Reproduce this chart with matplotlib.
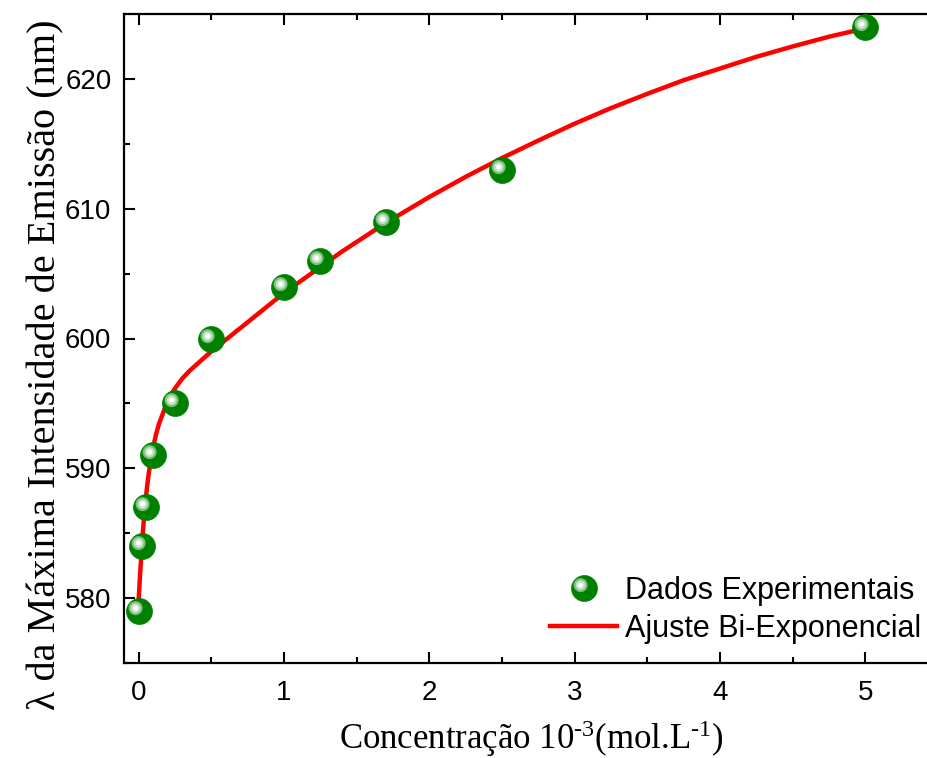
import numpy as np
import matplotlib
matplotlib.use('Agg')
import matplotlib.pyplot as plt
from matplotlib.path import Path
from matplotlib.lines import Line2D
from matplotlib.legend_handler import HandlerTuple
from matplotlib.ticker import MultipleLocator

# ---- data ----
conc = [0.0, 0.025, 0.05, 0.1, 0.25, 0.5, 1.0, 1.25, 1.7, 2.5, 5.0]
wavelength = [579, 584, 587, 591, 595, 600, 604, 606, 609, 613, 624]

fit_x = [0.00, 0.01, 0.02, 0.03, 0.04, 0.05, 0.06, 0.07, 0.08, 0.09, 0.10,
         0.12, 0.14, 0.16, 0.18, 0.20, 0.23, 0.26, 0.30, 0.35, 0.40, 0.45,
         0.50, 0.60, 0.70, 0.80, 0.90, 1.00, 1.10, 1.25, 1.40, 1.55, 1.70,
         1.85, 2.00, 2.25, 2.50, 2.75, 3.00, 3.25, 3.50, 3.75, 4.00, 4.25,
         4.50, 4.75, 5.00]
fit_y = [579.7, 581.7, 583.5, 585.1, 586.5, 587.7, 588.7, 589.6, 590.3, 591.0,
         591.6, 592.6, 593.4, 594.0, 594.6, 595.2, 595.8, 596.3, 596.9, 597.5,
         598.0, 598.5, 599.0, 599.9, 600.8, 601.7, 602.6, 603.5, 604.3, 605.5,
         606.7, 607.8, 608.9, 609.9, 610.9, 612.45, 613.9, 615.25, 616.55,
         617.75, 618.85, 619.9, 620.8, 621.7, 622.5, 623.25, 623.9]

xticks = [0, 1, 2, 3, 4, 5]
yticks = [580, 590, 600, 610, 620]

label_data = 'Dados Experimentais'
label_fit = 'Ajuste Bi-Exponencial'
xlabel = r'Concentração 10$^{\text{-3}}$(mol.L$^{\text{-1}}$)'
ylabel = 'λ da Máxima Intensidade de Emissão (nm)'

# ---- style ----
plt.rcParams['font.family'] = ['Liberation Sans', 'DejaVu Sans']
plt.rcParams['mathtext.fontset'] = 'custom'
plt.rcParams['mathtext.rm'] = 'Liberation Serif'
plt.rcParams['mathtext.it'] = 'Liberation Serif:italic'

fig = plt.figure(figsize=(9.27, 7.58), dpi=100)
ax = fig.add_axes([124 / 927, 1 - 663 / 758, (938 - 124) / 927, (663 - 14) / 758])

ax.plot(fit_x, fit_y, color='#ff0000', lw=3.2, zorder=3, solid_capstyle='butt',
        solid_joinstyle='round')

D = 18.7  # marker diameter in points
green = '#008000'


def hl_marker(cx, cy, r):
    p = Path.circle((cx, cy), r)
    size = 2 * (max(abs(cx), abs(cy)) + r) * D
    return p, size


layers = [(-0.15, 0.13, 0.27, '#7dbf7d'),
          (-0.15, 0.13, 0.19, '#c4e3c4'),
          (-0.15, 0.13, 0.10, '#ffffff')]

handles_data = []
h0, = ax.plot(conc, wavelength, 'o', ms=D, mfc=green, mec=green, mew=0.5,
              ls='none', zorder=4, clip_on=False)
handles_data.append(h0)
for i, (cx, cy, r, c) in enumerate(layers):
    p, s = hl_marker(cx, cy, r)
    h, = ax.plot(conc, wavelength, ls='none', marker=p, ms=s, mfc=c, mec='none',
                 mew=0, zorder=5 + i, clip_on=False)
    handles_data.append(h)

ax.set_xlim(-0.1, 5.5)
ax.set_ylim(575, 625)
ax.set_xticks(xticks)
ax.set_yticks(yticks)
ax.xaxis.set_minor_locator(MultipleLocator(0.5))
ax.yaxis.set_minor_locator(MultipleLocator(5))

for s in ax.spines.values():
    s.set_linewidth(1.6)
ax.tick_params(which='both', direction='in', top=True, right=True, width=1.5)
ax.tick_params(which='major', length=8, labelsize=20)
ax.tick_params(which='minor', length=4.5)
ax.tick_params(axis='y', pad=9)
ax.tick_params(axis='x', pad=12)

ax.set_xlabel(xlabel, family='Liberation Serif', fontsize=25, labelpad=9)
ax.set_ylabel(ylabel, family='Liberation Serif', fontsize=29)
ax.yaxis.set_label_coords((64 - 124) / 814, (663 - 365) / 649)

fit_handle = Line2D([], [], color='#ff0000', lw=3.2)
leg = ax.legend([tuple(handles_data), fit_handle], [label_data, label_fit],
                handler_map={tuple: HandlerTuple(ndivide=1, pad=0)},
                loc='upper left', bbox_to_anchor=(550 / 927, 1 - 576 / 758),
                bbox_transform=fig.transFigure, frameon=False, fontsize=22,
                borderpad=0, borderaxespad=0, handlelength=2.2,
                handletextpad=0.27, labelspacing=0.25, numpoints=1)

fig.savefig('out.png', dpi=100)
